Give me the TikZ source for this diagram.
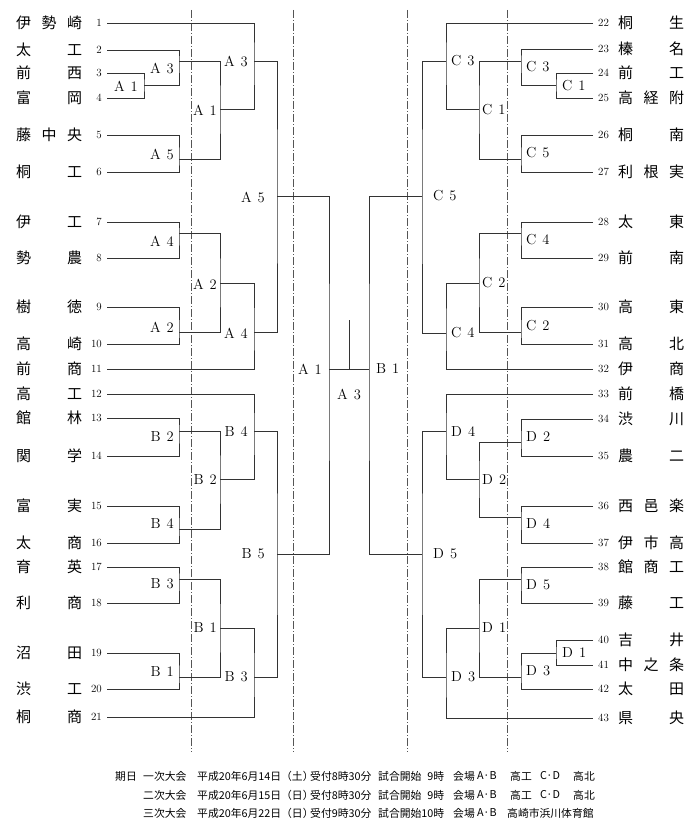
\documentclass[tikz,border=0pt]{standalone}
\usepackage{fontspec}
\newfontfamily\cjk{Noto Sans CJK JP}
\usetikzlibrary{positioning}
\definecolor{linegray}{HTML}{333333}
\definecolor{rulegray}{HTML}{555555}
\tikzstyle{num} = [inner xsep=5pt, inner ysep=0pt, font=\fontsize{11}{11}\selectfont]
\tikzstyle{school} = [anchor=west, inner sep=0pt, font=\cjk\fontsize{15}{15}\selectfont]
\tikzstyle{llabel} = [anchor=east, inner sep=0pt, font=\fontsize{14.5}{14.5}\selectfont]
\tikzstyle{rlabel} = [anchor=west, inner sep=0pt, font=\fontsize{14.5}{14.5}\selectfont]
\tikzstyle{bracket} = [draw=linegray, line width=0.8pt]
\tikzstyle{divider} = [draw=rulegray, line width=0.6pt,
    dash pattern=on 8pt off 2pt on 1pt off 2pt]
\tikzstyle{note} = [anchor=west, inner sep=0pt, font=\cjk\fontsize{10.8}{10.8}\selectfont]
\newcommand{\spread}[3]{\hbox to 66pt{#1\hfill#2\hfill#3}}
\newcommand{\game}[2]{#1\hspace{6pt}#2}

\begin{document}
\begin{tikzpicture}[x=1pt, y=-1pt]
    \useasboundingbox (0,0) rectangle (700,824);

    % Dividers
    \draw[divider] (191,10) -- (191,752);
    \draw[divider] (293,10) -- (293,752);
    \draw[divider] (407,10) -- (407,752);
    \draw[divider] (507,10) -- (507,752);

    % Place teams
    \foreach \i/\y/\a/\b/\c in {1/23/伊/勢/崎, 2/50/太/{}/工, 3/73/前/{}/西,
        4/98/富/{}/岡, 5/135/藤/中/央, 6/172/桐/{}/工, 7/222/伊/{}/工,
        8/258/勢/{}/農, 9/307/樹/{}/徳, 10/344/高/{}/崎, 11/369/前/{}/商,
        12/394/高/{}/工, 13/418/館/{}/林, 14/456/関/{}/学, 15/506/富/{}/実,
        16/543/太/{}/商, 17/567/育/{}/英, 18/603/利/{}/商, 19/653/沼/{}/田,
        20/689/渋/{}/工, 21/717/桐/{}/商} {
        \node[school] (s\i) at (16,\y) {\spread{\a}{\b}{\c}};
        \node[num, anchor=east] (n\i) at (107,\y) {\i};
    }
    \foreach \i/\y/\a/\b/\c in {22/23/桐/{}/生, 23/49/榛/{}/名, 24/73/前/{}/工,
        25/98/高/経/附, 26/135/桐/{}/南, 27/172/利/根/実, 28/222/太/{}/東,
        29/258/前/{}/南, 30/307/高/{}/東, 31/344/高/{}/北, 32/369/伊/{}/商,
        33/394/前/{}/橋, 34/419/渋/{}/川, 35/456/農/{}/二, 36/506/西/邑/楽,
        37/543/伊/市/高, 38/567/館/商/工, 39/603/藤/{}/工, 40/640/吉/{}/井,
        41/665/中/之/条, 42/689/太/{}/田, 43/718/県/{}/央} {
        \node[school] (s\i) at (618,\y) {\spread{\a}{\b}{\c}};
        \node[num, anchor=west] (n\i) at (593,\y) {\i};
    }

    % Match points, left half
    \coordinate (pA1) at (144,85);
    \coordinate (rA3) at (179,61);
    \coordinate (rA5) at (179,159);
    \coordinate (sA1) at (220,109);
    \coordinate (tA3) at (254,61);
    \coordinate (rA4) at (179,233);
    \coordinate (rA2) at (179,332);
    \coordinate (sA2) at (220,283);
    \coordinate (tA4) at (254,332);
    \coordinate (uA5) at (277,196);
    \coordinate (rB2) at (179,431);
    \coordinate (rB4) at (179,529);
    \coordinate (sB2) at (220,479);
    \coordinate (tB4) at (254,431);
    \coordinate (rB3) at (179,579);
    \coordinate (rB1) at (179,677);
    \coordinate (sB1) at (220,628);
    \coordinate (tB3) at (254,677);
    \coordinate (uB5) at (277,554);
    \coordinate (fA1) at (329,369);

    % Match points, right half
    \coordinate (pC1) at (556,85);
    \coordinate (rC3) at (521,61);
    \coordinate (rC5) at (521,159);
    \coordinate (sC1) at (479,109);
    \coordinate (tC3) at (446,61);
    \coordinate (rC4) at (521,233);
    \coordinate (rC2) at (521,332);
    \coordinate (sC2) at (479,283);
    \coordinate (tC4) at (446,333);
    \coordinate (uC5) at (422,196);
    \coordinate (rD2) at (521,442);
    \coordinate (rD4) at (521,517);
    \coordinate (sD2) at (479,479);
    \coordinate (tD4) at (446,431);
    \coordinate (rD5) at (521,579);
    \coordinate (pD1) at (556,653);
    \coordinate (rD3) at (521,677);
    \coordinate (sD1) at (479,628);
    \coordinate (tD3) at (446,677);
    \coordinate (uD5) at (422,554);
    \coordinate (fB1) at (369,369);
    \coordinate (champ) at (349,320);

    % Draw edges, left half
    \draw[bracket] (n3.east) -| (pA1) |- (n4.east);
    \draw[bracket] (n2.east) -| (rA3) |- (pA1);
    \draw[bracket] (n5.east) -| (rA5) |- (n6.east);
    \draw[bracket] (rA3) -| (sA1) |- (rA5);
    \draw[bracket] (n1.east) -| (tA3) |- (sA1);
    \draw[bracket] (n7.east) -| (rA4) |- (n8.east);
    \draw[bracket] (n9.east) -| (rA2) |- (n10.east);
    \draw[bracket] (rA4) -| (sA2) |- (rA2);
    \draw[bracket] (sA2) -| (tA4) |- (n11.east);
    \draw[bracket] (tA3) -| (uA5) |- (tA4);
    \draw[bracket] (n13.east) -| (rB2) |- (n14.east);
    \draw[bracket] (n15.east) -| (rB4) |- (n16.east);
    \draw[bracket] (rB2) -| (sB2) |- (rB4);
    \draw[bracket] (n12.east) -| (tB4) |- (sB2);
    \draw[bracket] (n17.east) -| (rB3) |- (n18.east);
    \draw[bracket] (n19.east) -| (rB1) |- (n20.east);
    \draw[bracket] (rB3) -| (sB1) |- (rB1);
    \draw[bracket] (sB1) -| (tB3) |- (n21.east);
    \draw[bracket] (tB4) -| (uB5) |- (tB3);
    \draw[bracket] (uA5) -| (fA1) |- (uB5);

    % Draw edges, right half
    \draw[bracket] (n24.west) -| (pC1) |- (n25.west);
    \draw[bracket] (n23.west) -| (rC3) |- (pC1);
    \draw[bracket] (n26.west) -| (rC5) |- (n27.west);
    \draw[bracket] (rC3) -| (sC1) |- (rC5);
    \draw[bracket] (n22.west) -| (tC3) |- (sC1);
    \draw[bracket] (n28.west) -| (rC4) |- (n29.west);
    \draw[bracket] (n30.west) -| (rC2) |- (n31.west);
    \draw[bracket] (rC4) -| (sC2) |- (rC2);
    \draw[bracket] (sC2) -| (tC4) |- (n32.west);
    \draw[bracket] (tC3) -| (uC5) |- (tC4);
    \draw[bracket] (n34.west) -| (rD2) |- (n35.west);
    \draw[bracket] (n36.west) -| (rD4) |- (n37.west);
    \draw[bracket] (rD2) -| (sD2) |- (rD4);
    \draw[bracket] (n33.west) -| (tD4) |- (sD2);
    \draw[bracket] (n38.west) -| (rD5) |- (n39.west);
    \draw[bracket] (n40.west) -| (pD1) |- (n41.west);
    \draw[bracket] (pD1) -| (rD3) |- (n42.west);
    \draw[bracket] (rD5) -| (sD1) |- (rD3);
    \draw[bracket] (sD1) -| (tD3) |- (n43.west);
    \draw[bracket] (tD4) -| (uD5) |- (tD3);
    \draw[bracket] (uC5) -| (fB1) |- (uD5);

    % Final
    \draw[bracket] (fA1) -- (fB1);
    \draw[bracket] (champ) -- (champ |- fA1);

    % Game labels, left half
    \node[llabel] (lpA1) at (138,86) {\game{A}{1}};
    \node[llabel] (lrA3) at (174,68) {\game{A}{3}};
    \node[llabel] (lrA5) at (174,154) {\game{A}{5}};
    \node[llabel] (lsA1) at (217,110) {\game{A}{1}};
    \node[llabel] (ltA3) at (248,61) {\game{A}{3}};
    \node[llabel] (lrA4) at (174,241) {\game{A}{4}};
    \node[llabel] (lrA2) at (174,327) {\game{A}{2}};
    \node[llabel] (lsA2) at (217,284) {\game{A}{2}};
    \node[llabel] (ltA4) at (248,333) {\game{A}{4}};
    \node[llabel] (luA5) at (265,197) {\game{A}{5}};
    \node[llabel] (lrB2) at (174,437) {\game{B}{2}};
    \node[llabel] (lrB4) at (174,524) {\game{B}{4}};
    \node[llabel] (lsB2) at (217,480) {\game{B}{2}};
    \node[llabel] (ltB4) at (248,432) {\game{B}{4}};
    \node[llabel] (lrB3) at (174,584) {\game{B}{3}};
    \node[llabel] (lrB1) at (174,672) {\game{B}{1}};
    \node[llabel] (lsB1) at (217,628) {\game{B}{1}};
    \node[llabel] (ltB3) at (248,677) {\game{B}{3}};
    \node[llabel] (luB5) at (265,554) {\game{B}{5}};
    \node[llabel] (lfA1) at (322,369) {\game{A}{1}};

    % Game labels, right half
    \node[rlabel] (lpC1) at (562,86) {\game{C}{1}};
    \node[rlabel] (lrC3) at (526,67) {\game{C}{3}};
    \node[rlabel] (lrC5) at (526,153) {\game{C}{5}};
    \node[rlabel] (lsC1) at (482,110) {\game{C}{1}};
    \node[rlabel] (ltC3) at (451,61) {\game{C}{3}};
    \node[rlabel] (lrC4) at (526,240) {\game{C}{4}};
    \node[rlabel] (lrC2) at (526,326) {\game{C}{2}};
    \node[rlabel] (lsC2) at (482,283) {\game{C}{2}};
    \node[rlabel] (ltC4) at (451,333) {\game{C}{4}};
    \node[rlabel] (luC5) at (433,196) {\game{C}{5}};
    \node[rlabel] (lrD2) at (526,437) {\game{D}{2}};
    \node[rlabel] (lrD4) at (526,524) {\game{D}{4}};
    \node[rlabel] (lsD2) at (482,480) {\game{D}{2}};
    \node[rlabel] (ltD4) at (451,432) {\game{D}{4}};
    \node[rlabel] (lrD5) at (526,585) {\game{D}{5}};
    \node[rlabel] (lpD1) at (562,653) {\game{D}{1}};
    \node[rlabel] (lrD3) at (526,671) {\game{D}{3}};
    \node[rlabel] (lsD1) at (482,628) {\game{D}{1}};
    \node[rlabel] (ltD3) at (451,677) {\game{D}{3}};
    \node[rlabel] (luD5) at (433,554) {\game{D}{5}};
    \node[rlabel] (lfB1) at (376,369) {\game{B}{1}};
    \node[llabel, anchor=center] (lchamp) at (349,394) {\game{A}{3}};

    % Schedule
    \node[note] (d0) at (115,776) {期日};
    \node[note] (d1a) at (143,776) {一次大会};
    \node[note] (d1b) at (197,776) {平成20年6月14日（土）};
    \node[note] (d1c) at (310,776) {受付8時30分};
    \node[note] (d1d) at (378,776) {試合開始\phantom{1}9時};
    \node[note] (d1e) at (453,776) {会場};
    \node[note] (d1f) at (477,776) {A·B};
    \node[note] (d1g) at (510,776) {高工};
    \node[note] (d1h) at (540,776) {C·D};
    \node[note] (d1i) at (573,776) {高北};
    \node[note] (d2a) at (143,795) {二次大会};
    \node[note] (d2b) at (197,795) {平成20年6月15日（日）};
    \node[note] (d2c) at (310,795) {受付8時30分};
    \node[note] (d2d) at (378,795) {試合開始\phantom{1}9時};
    \node[note] (d2e) at (453,795) {会場};
    \node[note] (d2f) at (477,795) {A·B};
    \node[note] (d2g) at (510,795) {高工};
    \node[note] (d2h) at (540,795) {C·D};
    \node[note] (d2i) at (573,795) {高北};
    \node[note] (d3a) at (143,813) {三次大会};
    \node[note] (d3b) at (197,813) {平成20年6月22日（日）};
    \node[note] (d3c) at (310,813) {受付9時30分};
    \node[note] (d3d) at (378,813) {試合開始10時};
    \node[note] (d3e) at (453,813) {会場};
    \node[note] (d3f) at (477,813) {A·B};
    \node[note] (d3g) at (507,813) {高崎市浜川体育館};

\end{tikzpicture}
\end{document}
